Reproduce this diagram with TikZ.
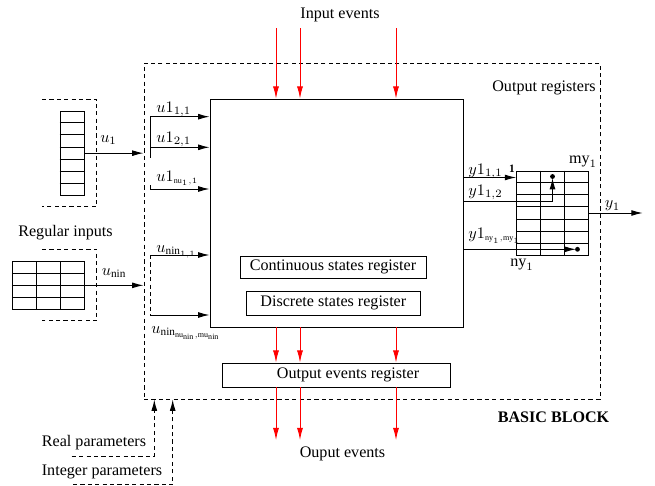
\documentclass[tikz,border=0pt]{standalone}
\usepackage{fontspec}
\setmainfont{Liberation Serif}
\usetikzlibrary{arrows.meta,fit,calc}
\begin{document}
\begin{tikzpicture}[x=0.621pt,y=-0.621pt,line width=0.6pt,
  box/.style={draw,inner sep=0pt},
  dashbox/.style={draw,dash pattern=on 2.6pt off 2pt,inner sep=0pt},
  dsh/.style={dash pattern=on 2.6pt off 2pt},
  arr/.style={-{Latex[length=7pt,width=3.6pt]}},
  evarr/.style={red,-{Latex[length=7.6pt,width=3.8pt]}},
  lbl/.style={inner sep=0pt,anchor=base west},
  txt/.style={inner sep=0pt},
  dot/.style={fill,circle,inner sep=0pt,minimum size=3pt}]
\useasboundingbox (0,0) rectangle (655,486);

% ---------- block frame and inner boxes ----------
\node[dashbox,fit={(144,63) (600,399)}] (bb) {};
\node[box,fit={(210,99) (463,327)}] (core) {};
\node[box,fit={(240,256) (426,278.5)},label={center:Continuous states register}] (csr) {};
\node[box,fit={(246.7,291.7) (420,315)},label={center:Discrete states register}] (dsr) {};
\node[box,fit={(222,363) (450,387)}] (oer) {};
\node[txt] (oert) at (348,375) {Output events register};

\node[txt] (inev) at (340,15) {Input events};
\node[txt] (outev) at (342.5,454) {Ouput events};
\node[txt] (oreg) at (544,88) {Output registers};
\node[txt] (bbt) at (553.5,417.5) {\textbf{BASIC BLOCK}};

% ---------- event arrows ----------
\coordinate (ie1) at (276,28);
\coordinate (ie2) at (300,28);
\coordinate (ie3) at (396,28);
\coordinate (oe1) at (276,440);
\coordinate (oe2) at (300,440);
\coordinate (oe3) at (396,440);
\foreach \i in {1,2,3}{
  \draw[evarr] (ie\i) -- (ie\i |- core.north);
  \draw[evarr] (core.south -| ie\i) -- (ie\i |- oer.north);
  \draw[evarr] (oer.south -| ie\i) -- (oe\i);
}

% ---------- regular input u1 (column register) ----------
\draw[dsh] (42,99.3) -- (96.7,99.3) -- (96.7,206.7) -- (42,206.7);
\node[box,fit={(60,111) (84.3,195.3)}] (ureg) {};
\foreach \k in {1,...,6}
  \draw ($(ureg.north west)!\k/7!(ureg.south west)$) -- ($(ureg.north east)!\k/7!(ureg.south east)$);
\draw[arr] (ureg.east) -- (ureg.east -| bb.west);
\node[txt] (ul) at (108.5,140) {$u_1$};

\node[txt] (regin) at (65.5,232.7) {Regular inputs};

% ---------- regular input u_nin (matrix register) ----------
\draw[dsh] (42,249) -- (96.7,249) -- (96.7,320.7) -- (42,320.7);
\node[box,fit={(12.3,261.7) (84.3,309)}] (nreg) {};
\foreach \k in {1,2,3}
  \draw ($(nreg.north west)!\k/4!(nreg.south west)$) -- ($(nreg.north east)!\k/4!(nreg.south east)$);
\foreach \k in {1,2}
  \draw ($(nreg.north west)!\k/3!(nreg.north east)$) -- ($(nreg.south west)!\k/3!(nreg.south east)$);
\draw[arr] (nreg.east) -- (nreg.east -| bb.west);
\node[txt] (nl) at (114,273) {$u_{\mathrm{nin}}$};

% ---------- fan-out into the block ----------
\coordinate (fa) at (150,116.7);
\coordinate (fb) at (150,147.3);
\coordinate (fc) at (150,189);
\coordinate (fd) at (150,255);
\coordinate (fe) at (150,315);
\draw (fa) -- (150,158.3);
\draw (150,185) -- (fc);
\draw[dsh] (fd) -- (fe);
\foreach \c in {fa,fb,fc,fd,fe}
  \draw[arr] (\c) -- (\c -| core.west);
\node[lbl] (la) at (156,112) {$u1_{1,1}$};
\node[lbl] (lb) at (156,142) {$u1_{2,1}$};
\node[lbl] (lc) at (156,181) {$u1_{\scriptscriptstyle\mathrm{nu}_1,1}$};
\node[lbl] (ld) at (156,252) {$u_{\mathrm{nin}_{1,1}}$};
\node[lbl] (le) at (151,333) {$u_{\mathrm{nin}_{\mathrm{nu}_{\mathrm{nin}},\mathrm{mu}_{\mathrm{nin}}}}$};

% ---------- output register y1 ----------
\node[box,fit={(516.7,171) (588.3,255)}] (yreg) {};
\foreach \k in {1,...,6}
  \draw ($(yreg.north west)!\k/7!(yreg.south west)$) -- ($(yreg.north east)!\k/7!(yreg.south east)$);
\foreach \k in {1,2}
  \draw ($(yreg.north west)!\k/3!(yreg.north east)$) -- ($(yreg.south west)!\k/3!(yreg.south east)$);
\node[txt] (one) at (512,169) {\scriptsize\textbf{1}};
\node[txt] (myl) at (583,162) {$\mathrm{my}_1$};
\node[txt] (nyl) at (522,265) {$\mathrm{ny}_1$};

\coordinate (ya) at (0,177.5);
\coordinate (yb) at (0,201.5);
\coordinate (yc) at (0,249.3);
\coordinate (tb) at (552.5,176.5);
\coordinate (tc) at (577.5,249.3);
\draw[arr] (core.east |- ya) -- (yreg.west |- ya);
\draw (core.east |- yb) -- (tb |- yb);
\draw[arr] (tb |- yb) -- ($(tb)+(0,1.5)$);
\node[dot] at (tb) {};
\draw[arr] (core.east |- yc) -- ($(tc)+(-1.5,0)$);
\node[dot] at (tc) {};
\node[lbl] (ya1) at (468,174.5) {$y1_{1,1}$};
\node[lbl] (yb1) at (468,195) {$y1_{1,2}$};
\node[lbl] (yc1) at (468,238.5) {$y1_{\scriptscriptstyle\mathrm{ny}_1,\mathrm{my}_1}$};

\coordinate (yout) at (642.7,213);
\draw[arr] (yreg.east) -- (yreg.east -| yout);
\node[txt] (yl) at (612.5,206) {$y_1$};

% ---------- parameters ----------
\node[txt] (rp) at (94,442.7) {Real parameters};
\node[txt] (ip) at (102,471.7) {Integer parameters};
\coordinate (rpa) at (71.7,456);
\coordinate (rpb) at (154.3,456);
\coordinate (ipa) at (73,484.7);
\coordinate (ipb) at (172.7,484.7);
\draw[dsh,arr] (rpa) -- (rpb) -- (rpb |- bb.south);
\draw[dsh,arr] (ipa) -- (ipb) -- (ipb |- bb.south);
\end{tikzpicture}
\end{document}
